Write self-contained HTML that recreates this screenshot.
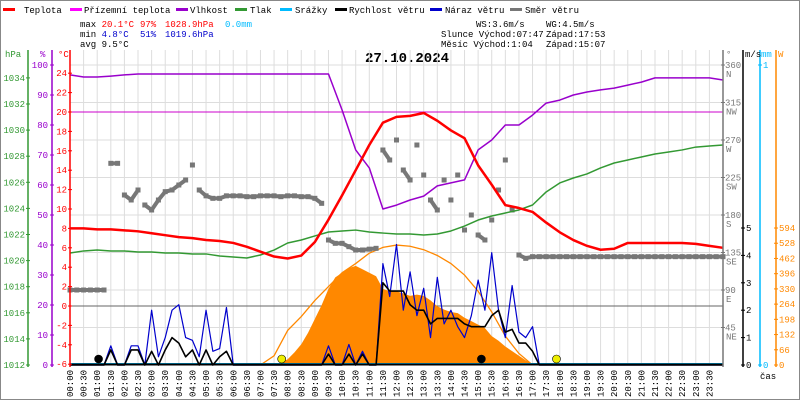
<!DOCTYPE html>
<html><head><meta charset="utf-8"><style>
html,body{margin:0;padding:0;background:#fff}
svg{display:block;font-family:"Liberation Mono",monospace}
</style></head><body>
<svg id="c" width="800" height="400" viewBox="0 0 800 400" xmlns="http://www.w3.org/2000/svg">
<rect x="0.5" y="0.5" width="799" height="399" fill="#fff" stroke="#888"/>
<g font-size="9">
 <g><rect x="3" y="8" width="12" height="3" fill="#f00"/><text x="24" y="13">Teplota</text></g>
 <g><rect x="70" y="8" width="12" height="3" fill="#f0f"/><text x="84" y="13">Přízemní teplota</text></g>
 <g><rect x="176" y="8" width="12" height="3" fill="#90c"/><text x="190" y="13">Vlhkost</text></g>
 <g><rect x="235" y="8" width="12" height="3" fill="#393"/><text x="250" y="13">Tlak</text></g>
 <g><rect x="280" y="8" width="12" height="3" fill="#0bf"/><text x="295" y="13">Srážky</text></g>
 <g><rect x="335" y="8" width="12" height="3" fill="#000"/><text x="349" y="13">Rychlost větru</text></g>
 <g><rect x="430" y="8" width="12" height="3" fill="#00c"/><text x="445" y="13">Náraz větru</text></g>
 <g><rect x="510" y="8" width="12" height="3" fill="#777"/><text x="525" y="13">Směr větru</text></g>
</g>
<g font-size="9">
 <text x="80" y="27">max <tspan fill="#f00">20.1°C</tspan> <tspan x="140" fill="#f00">97%</tspan> <tspan x="165" fill="#f00">1028.9hPa</tspan> <tspan x="225" fill="#0bf">0.0mm</tspan></text>
 <text x="80" y="37">min  <tspan fill="#00c">4.8°C</tspan> <tspan x="140" fill="#00c">51%</tspan> <tspan x="165" fill="#00c">1019.6hPa</tspan></text>
 <text x="80" y="47">avg  9.5°C</text>
 <text x="476" y="27">WS:3.6m/s</text><text x="546" y="27">WG:4.5m/s</text>
 <text x="441" y="37">Slunce Východ:07:47</text><text x="546" y="37">Západ:17:53</text>
 <text x="441" y="47">Měsíc  Východ:1:04</text><text x="546" y="47">Západ:15:07</text>
</g>
<text x="365" y="62" font-size="14" font-weight="bold">27.10.2024</text>
<g id="grid"></g>
<g id="plot"></g>
<g id="axes"></g>
</svg>
<script>
const temps=[8.0,8.0,7.9,7.9,7.8,7.7,7.5,7.3,7.1,7.0,6.8,6.7,6.5,6.1,5.6,5.1,4.9,5.2,6.6,8.9,11.4,14.0,16.6,18.9,19.5,19.6,19.9,19.1,18.1,17.3,14.5,12.5,10.4,10.1,9.7,8.6,7.6,6.8,6.2,5.8,5.9,6.5,6.5,6.5,6.5,6.5,6.4,6.2,6.0];
const humidity=[96.7,96,96,96.3,96.7,97,97,97,97,97,97,97,97,97,97,97,97,97,97,97,85,71.7,65.7,52,53.3,55,56.3,59.7,60.7,61.7,71.7,75,80,80,83.3,87.3,88.3,90,91,91.7,92.3,93.3,94.3,95.7,95.7,95.7,95.7,95.7,95];
const pressure=[1020.58,1020.74,1020.81,1020.74,1020.74,1020.66,1020.66,1020.58,1020.58,1020.51,1020.51,1020.35,1020.28,1020.2,1020.43,1020.81,1021.35,1021.58,1021.89,1022.19,1022.27,1022.34,1022.19,1022.11,1022.04,1022.04,1021.96,1022.04,1022.27,1022.65,1023.11,1023.42,1023.65,1023.88,1024.26,1025.26,1025.95,1026.33,1026.64,1027.1,1027.48,1027.71,1027.94,1028.17,1028.32,1028.48,1028.7,1028.78,1028.86];
const windDir=[90,90,90,90,90,90,242,242,204,198,210,192,186,198,208,210,216,222,240,210,203,200,200,203,203,203,202,202,203,203,203,202,203,203,202,202,200,194,150,146,146,142,138,138,139,140,258,246,270,234,222,264,228,198,186,222,198,228,162,180,156,150,174,210,246,186,132,128,130,130,130,130,130,130,130,130,130,130,130,130,130,130,130,130,130,130,130,130,130,130,130,130,130,130,130,130,130];
const windSpeed=[0,0,0,0,0,0,0.55,0,0,0.55,0.55,0,0.5,0,0.55,1.0,0.8,0.3,0.55,0,0.55,0,0.3,0.5,0,0,0,0,0,0,0,0,0,0,0,0,0,0,0.4,0,0,0.4,0,0.4,0,0,3.0,2.7,2.7,2.7,2.2,2.0,2.0,1.5,1.7,1.7,1.7,1.7,1.5,1.4,1.4,1.4,1.8,2.0,1.2,1.3,0.8,0.8,0.5,0,0,0,0,0,0,0,0,0,0,0,0,0,0,0,0,0,0,0,0,0,0,0,0,0,0,0,0];
const windGust=[0,0,0,0,0,0,0.7,0,0,0.7,0.7,0,2.0,0.3,1.0,2.0,2.2,1.0,0.9,0.3,2.0,0.5,0.6,2.1,0,0,0,0,0,0,0,0,0,0,0,0,0,0,0.7,0,0,0.75,0,0.5,0,0,3.7,2.5,4.4,2.0,3.4,1.8,2.8,1.0,3.2,1.5,2.0,1.4,1.0,1.8,3.1,2.0,4.1,2.0,1.0,2.9,1.2,1.0,1.4,0,0,0,0,0,0,0,0,0,0,0,0,0,0,0,0,0,0,0,0,0,0,0,0,0,0,0,0];
const solarStart=7.5;
const solar=[0,10,25,55,90,140,200,260,330,380,400,420,430,415,400,385,330,320,320,310,300,305,300,280,255,240,230,225,205,190,175,160,125,105,80,60,40,20,5,0];
const clearStart=7.0;
const clearSky=[0,40,150,210,280,340,400,440,485,510,520,515,500,475,440,390,320,230,125,50,0];
const sunMoon=[[1.05,'moon-rise','#000'],[7.78,'sunrise','#ee0'],[15.12,'moon-set','#000'],[17.88,'sunset','#ee0']];
const hpaTicks=[1012,1014,1016,1018,1020,1022,1024,1026,1028,1030,1032,1034];
const pctTicks=[0,10,20,30,40,50,60,70,80,90,100];
const tempTicks=[-6,-4,-2,0,2,4,6,8,10,12,14,16,18,20,22,24];
const dirTicks=[45,90,135,180,225,270,315,360];
const dirNames=['NE','E','SE','S','SW','W','NW','N'];
const msTicks=[0,1,2,3,4,5];
const wTicks=[0,66,132,198,264,330,396,462,528,594];

const NS='http://www.w3.org/2000/svg';
const X0=70,X1=723,TOP=50,BOT=365;
const xT=h=>X0+h*(X1-X0)/24;
const yT=c=>306-c*9.7;
const yH=p=>365-p*3;
const yP=h=>365-(h-1012)*13.05;
const yD=d=>365-d/1.2;
const yW=v=>365-v*27.4;
const yS=w=>365-w*0.2306;
function mk(tag,attrs,parent){const e=document.createElementNS(NS,tag);for(const k in attrs)e.setAttribute(k,attrs[k]);parent.appendChild(e);return e;}
const grid=document.getElementById('grid'),plot=document.getElementById('plot'),axes=document.getElementById('axes');

for(let k=0;k<=48;k++){const x=xT(k/2);
 const l=mk('line',{x1:x,y1:TOP,x2:x,y2:BOT,stroke:'#ddd','stroke-width':1},grid);
 
 
 if(k<48){const hh=String(Math.floor(k/2)).padStart(2,'0')+':'+(k%2?'30':'00');
  const t=mk('text',{transform:`translate(${x+3},397) rotate(-90)`,'font-size':9},axes);t.textContent=hh;
  
  }
}
dirTicks.forEach(d=>{const l=mk('line',{x1:X0,y1:yD(d),x2:X1,y2:yD(d),stroke:'#ddd'},grid);
 
 });
const z=mk('line',{x1:X0,y1:yT(0),x2:X1,y2:yT(0),stroke:'#666'},grid);


const m20=mk('line',{x1:X0,y1:yT(20),x2:X1,y2:yT(20),stroke:'#c0c'},grid);



// solar fill
let pts=[[xT(solarStart),yS(0)]];solar.forEach((v,i)=>pts.push([xT(solarStart+i*0.25),yS(v)]));pts.push([xT(solarStart+(solar.length-1)*0.25),yS(0)]);
const sf=mk('polygon',{points:pts.map(p=>p.join(',')).join(' '),fill:'#f80'},plot);


const cs=mk('polyline',{points:clearSky.map((v,i)=>xT(clearStart+i*0.5)+','+yS(v)).join(' '),fill:'none',stroke:'#f80','stroke-width':1.3},plot);



// wind direction
for(let j=0;j<windDir.length;j++){
 if(j>0&&Math.abs(windDir[j]-windDir[j-1])<=12){const s=mk('line',{x1:xT((j-1)/4),y1:yD(windDir[j-1]),x2:xT(j/4),y2:yD(windDir[j]),stroke:'#777','stroke-width':4},plot);
  
  }
 const r=mk('rect',{x:xT(j/4)-2.5,y:yD(windDir[j])-2.5,width:5,height:5,fill:'#777'},plot);
 
 
}
function line(arr,step,fy,color,w,name){const p=mk('polyline',{points:arr.map((v,i)=>xT(i*step)+','+fy(v)).join(' '),fill:'none',stroke:color,'stroke-width':w,'stroke-linejoin':'round'},plot);
 
 }
const pc=mk('line',{x1:X0,y1:364,x2:X1,y2:364,stroke:'#0bf','stroke-width':2},plot);


line(windGust,0.25,yW,'#00c',1.2,'wind-gust-line');
line(windSpeed,0.25,yW,'#000',1.6,'wind-speed-line');
line(pressure,0.5,yP,'#393',1.5,'pressure-line');
line(humidity,0.5,yH,'#90c',1.5,'humidity-line');
line(temps,0.5,yT,'#f00',2.5,'temperature-line');
const bl=mk('line',{x1:X0,y1:364.5,x2:X1,y2:364.5,stroke:'#000','stroke-width':2},plot);


sunMoon.forEach(s=>{const c=mk('circle',{cx:xT(s[0]),cy:359,r:4,fill:s[2],stroke:'#000','stroke-width':0.6},plot);
 
 });

// axes
function vaxis(x,color,name){const l=mk('line',{x1:x,y1:TOP,x2:x,y2:BOT+2,stroke:color,'stroke-width':1.5},axes);
 
 }
function tick(x,y,color,label,tx,anchor,name){const l=mk('line',{x1:x-2,y1:y,x2:x+2,y2:y,stroke:color},axes);
 
 
 const t=mk('text',{x:tx,y:y+3,fill:color,'font-size':9,'text-anchor':anchor},axes);t.textContent=label;
 
 }
vaxis(28,'#393','pressure-axis');vaxis(52,'#90c','humidity-axis');vaxis(X0,'#f00','temperature-axis');
vaxis(X1,'#777','direction-axis');vaxis(743,'#000','wind-axis');vaxis(760,'#0bf','precip-axis');vaxis(776,'#f80','solar-axis');
hpaTicks.forEach(v=>tick(28,yP(v),'#393',String(v),25,'end','pressure-axis'));
pctTicks.forEach(v=>tick(52,yH(v),'#90c',String(v),48,'end','humidity-axis'));
tempTicks.forEach(v=>tick(X0,yT(v),'#f00',String(v),67,'end','temperature-axis'));
dirTicks.forEach((v,i)=>{tick(X1,yD(v),'#777',String(v),725,'start','direction-axis');
 const t=mk('text',{x:726,y:yD(v)+12,fill:'#777','font-size':9},axes);t.textContent=dirNames[i];
 
 });
msTicks.forEach(v=>tick(743,yW(v),'#000',String(v),746,'start','wind-axis'));
wTicks.forEach(v=>tick(776,yS(v),'#f80',String(v),779,'start','solar-axis'));
tick(760,65,'#0bf','1',763,'start','precip-axis');tick(760,365,'#0bf','0',763,'start','precip-axis');
[['hPa',5,'#393'],['%',40,'#90c'],['°C',58,'#f00'],['°',726,'#777'],['m/s',745,'#000'],['mm',761,'#0bf'],['W',778,'#f80'],['čas',760,'#000']].forEach((u,i)=>{
 const t=mk('text',{x:u[1],y:i==7?379:57,fill:u[2],'font-size':9},axes);t.textContent=u[0];
 
 });
</script>
</body></html>
